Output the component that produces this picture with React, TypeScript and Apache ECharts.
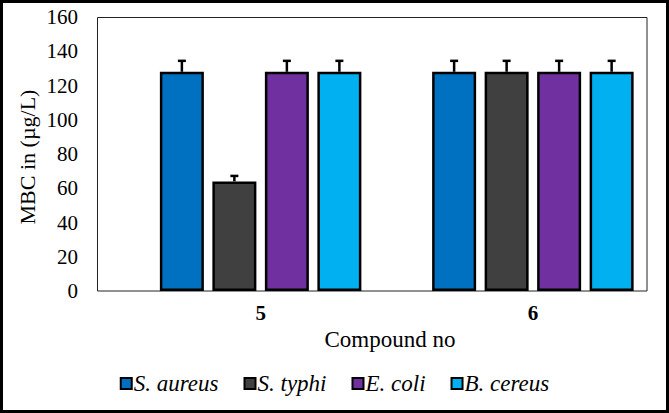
import React, { useEffect, useRef } from "react";
import * as echarts from "echarts";

const categories = ["5", "6"];
const seriesNames = ["S. aureus", "S. typhi", "E. coli", "B. cereus"];
const sAureus = [128, 128];
const sTyphi = [64, 128];
const eColi = [128, 128];
const bCereus = [128, 128];
const errSAureus = [6.4, 6.4];
const errSTyphi = [3.2, 6.4];
const errEColi = [6.4, 6.4];
const errBCereus = [6.4, 6.4];
const colors = ["#0070C0", "#404040", "#7030A0", "#00B0F0"];

const FONT = "Liberation Serif";
const BAR_W = 44;
const GAP_PX = 8.5;

export default function App() {
  const ref = useRef<HTMLDivElement>(null);
  useEffect(() => {
    if (!ref.current) return;
    const chart = echarts.init(ref.current, undefined, { renderer: "svg" });
    const values = [sAureus, sTyphi, eColi, bCereus];
    const errs = [errSAureus, errSTyphi, errEColi, errBCereus];
    const errData: number[][] = [];
    values.forEach((vals, s) =>
      vals.forEach((v, c) => errData.push([c, v, errs[s][c], s]))
    );
    const barSeries = seriesNames.map((name, i) => ({
      name,
      type: "bar",
      data: values[i],
      barWidth: BAR_W,
      barGap: (GAP_PX / BAR_W) * 100 + "%",
      itemStyle: { color: colors[i], borderColor: "#000", borderWidth: 2.5 },
      z: 2,
    }));
    chart.setOption({
      animation: false,
      backgroundColor: "#fff",
      textStyle: { fontFamily: FONT },
      grid: { left: 124.5, top: 17, width: 549, height: 274 },
      xAxis: {
        type: "category",
        data: categories,
        axisLine: { show: false },
        axisTick: { show: false },
        axisLabel: {
          color: "#000",
          fontFamily: FONT,
          fontSize: 21,
          fontWeight: "bold",
          margin: 11,
        },
      },
      yAxis: {
        type: "value",
        min: 0,
        max: 160,
        interval: 20,
        axisLine: { show: false },
        axisTick: { show: false },
        splitLine: { show: false },
        axisLabel: { color: "#000", fontFamily: FONT, fontSize: 21, margin: 46.5 },
      },
      legend: {
        data: seriesNames,
        left: "center",
        top: 367,
        icon: "rect",
        itemWidth: 11,
        itemHeight: 11,
        itemGap: 25,
        textStyle: {
          color: "#000",
          fontFamily: FONT,
          fontSize: 23,
          fontStyle: "italic",
          padding: [0, 0, 0, -3],
        },
      },
      graphic: [
        {
          type: "rect",
          shape: { x: 1.5, y: 1.5, width: 666, height: 410 },
          style: { fill: "none", stroke: "#000", lineWidth: 3 },
          z: 100,
        },
        {
          type: "rect",
          shape: { x: 97.5, y: 17.5, width: 549.5, height: 273.5 },
          style: { fill: "none", stroke: "#222", lineWidth: 1 },
          z: 1,
        },
        {
          type: "text",
          x: 390,
          y: 339,
          style: {
            text: "Compound no",
            fontFamily: FONT,
            fontSize: 23,
            fill: "#000",
            align: "center",
            verticalAlign: "middle",
          },
        },
        {
          type: "text",
          x: 27,
          y: 157,
          rotation: Math.PI / 2,
          style: {
            text: "MBC in (µg/L)",
            fontFamily: FONT,
            fontSize: 22,
            fill: "#000",
            align: "center",
            verticalAlign: "middle",
          },
        },
      ],
      series: [
        ...barSeries,
        {
          type: "custom",
          name: "err",
          data: errData,
          z: 5,
          encode: { x: 0, y: 1 },
          renderItem: (params: any, api: any) => {
            const c = api.value(0);
            const v = api.value(1);
            const e = api.value(2);
            const s = api.value(3);
            const off = (s - 1.5) * (BAR_W + GAP_PX);
            const base = api.coord([c, v]);
            const top = api.coord([c, v + e]);
            const x = base[0] + off;
            const st = { stroke: "#000", lineWidth: 2.5 };
            return {
              type: "group",
              children: [
                { type: "line", shape: { x1: x, y1: base[1], x2: x, y2: top[1] }, style: st },
                { type: "line", shape: { x1: x - 4, y1: top[1], x2: x + 4, y2: top[1] }, style: st },
              ],
            };
          },
        },
      ],
    });
    return () => chart.dispose();
  }, []);
  return (
    <div
      ref={ref}
      style={{ position: "fixed", left: 0, top: 0, width: 669, height: 413 }}
    />
  );
}
